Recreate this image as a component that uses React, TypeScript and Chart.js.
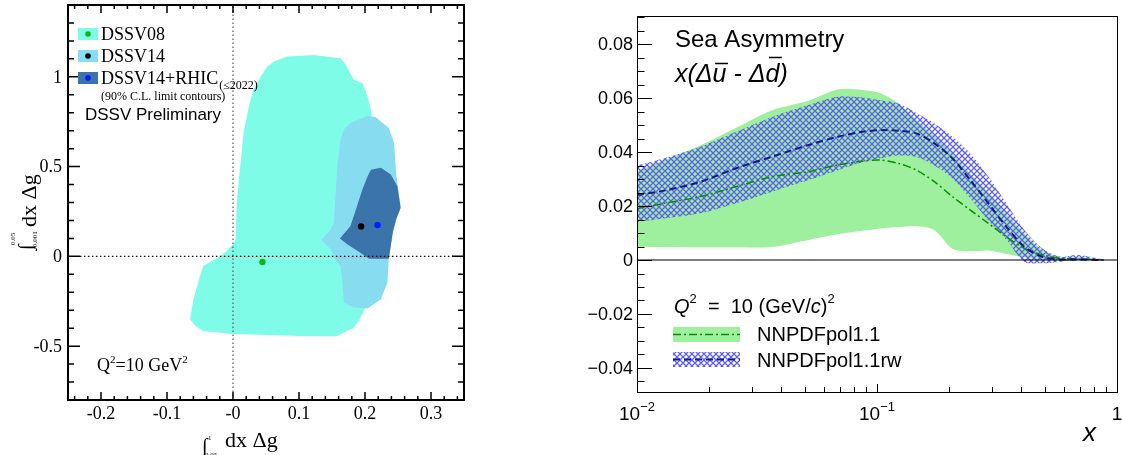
import React, { useEffect, useRef } from "react";
import { Chart, registerables } from "chart.js";
Chart.register(...registerables);

const SERIF = '"Liberation Serif", "Times New Roman", serif';
const SANS = '"Liberation Sans", Arial, sans-serif';

// ---------------- Left panel data ----------------
const dssv08X = [0.004, 0.006, 0.011, 0.016, 0.024, 0.031, 0.042, 0.052, 0.062, 0.082, 0.123, 0.163, 0.171, 0.183, 0.196, 0.204, 0.21, 0.212, 0.214, 0.212, 0.205, 0.192, 0.183, 0.157, 0.102, 0.001, -0.035, -0.045, -0.057, -0.065, -0.06, -0.05, -0.045, -0.019, -0.0095, 0.001, 0.004];
const dssv08Y = [0.094, 0.317, 0.502, 0.687, 0.835, 0.928, 1.002, 1.057, 1.085, 1.113, 1.122, 1.104, 1.067, 0.983, 0.965, 0.891, 0.798, 0.6, 0.2, -0.1, -0.25, -0.35, -0.396, -0.445, -0.443, -0.433, -0.42, -0.415, -0.387, -0.35, -0.239, -0.109, -0.054, 0.002, 0.03, 0.07, 0.094];

const dssv14X = [0.178, 0.204, 0.216, 0.236, 0.244, 0.247, 0.254, 0.249, 0.242, 0.236, 0.234, 0.224, 0.204, 0.183, 0.168, 0.166, 0.163, 0.155, 0.148, 0.134, 0.148, 0.153, 0.155, 0.158, 0.163, 0.168, 0.178];
const dssv14Y = [0.743, 0.783, 0.776, 0.715, 0.631, 0.465, 0.28, 0.224, 0.131, -0.017, -0.146, -0.239, -0.291, -0.285, -0.257, -0.146, -0.054, -0.017, 0.039, 0.091, 0.15, 0.187, 0.317, 0.502, 0.65, 0.706, 0.743];

const rhicX = [0.209, 0.224, 0.239, 0.249, 0.254, 0.247, 0.242, 0.239, 0.236, 0.206, 0.193, 0.173, 0.162, 0.178, 0.188, 0.196, 0.204, 0.209];
const rhicY = [0.483, 0.493, 0.456, 0.391, 0.27, 0.206, 0.131, 0.057, -0.013, -0.013, 0.02, 0.067, 0.1, 0.169, 0.28, 0.372, 0.446, 0.483];

const bestLabels = ["DSSV08", "DSSV14", "DSSV14+RHIC"];
const bestX = [0.0446, 0.194, 0.219];
const bestY = [-0.031, 0.167, 0.174];

const leftXTicks = [-0.2, -0.1, 0, 0.1, 0.2, 0.3];
const leftXTickLabels = ["-0.2", "-0.1", "-0", "0.1", "0.2", "0.3"];
const leftYTicks = [-0.5, 0, 0.5, 1];
const leftYTickLabels = ["-0.5", "0", "0.5", "1"];

// ---------------- Right panel data ----------------
const xGrid = [0.01, 0.013, 0.0184, 0.0259, 0.0366, 0.0518, 0.0683, 0.0869, 0.1033, 0.1228, 0.146, 0.1734, 0.2061, 0.2449, 0.291, 0.3459, 0.4111, 0.4887, 0.5808, 0.6902, 0.879];
const nnpdfUpper = [0.033, 0.037, 0.0425, 0.049, 0.0555, 0.059, 0.0632, 0.063, 0.0618, 0.058, 0.052, 0.046, 0.0395, 0.032, 0.025, 0.017, 0.0099, 0.0037, 0.0012, 0.001, 0.0002];
const nnpdfLower = [0.0049, 0.0048, 0.0047, 0.0047, 0.0048, 0.0074, 0.0095, 0.0108, 0.0117, 0.0122, 0.0126, 0.011, 0.0042, 0.0032, 0.0035, 0.0022, 0.001, 0.0002, 0, 0, 0];
const nnpdfCentral = [0.0191, 0.021, 0.0235, 0.0272, 0.0309, 0.0327, 0.0352, 0.0366, 0.037, 0.0358, 0.0333, 0.029, 0.0235, 0.0185, 0.0136, 0.0086, 0.0043, 0.0019, 0.0006, 0.0004, 0];
const rwUpper = [0.035, 0.0377, 0.042, 0.0475, 0.053, 0.0574, 0.0605, 0.0602, 0.0592, 0.058, 0.0545, 0.0506, 0.0457, 0.0395, 0.0309, 0.021, 0.0111, 0.0043, 0.0012, 0.0019, 0.0002];
const rwLower = [0.0142, 0.0154, 0.0173, 0.021, 0.0253, 0.0296, 0.0332, 0.0362, 0.0377, 0.0387, 0.0382, 0.035, 0.0302, 0.0228, 0.0146, 0.0075, -0.0006, -0.0012, -0.0006, 0, 0];
const rwCentral = [0.0241, 0.0257, 0.029, 0.034, 0.0383, 0.0426, 0.0456, 0.0475, 0.0481, 0.0479, 0.0469, 0.0432, 0.0377, 0.0296, 0.021, 0.0123, 0.0049, 0.0012, 0.0002, 0.0002, 0];

const rightYTicks = [-0.04, -0.02, 0, 0.02, 0.04, 0.06, 0.08];
const rightYTickLabels = ["\u22120.04", "\u22120.02", "0", "0.02", "0.04", "0.06", "0.08"];
const rightXTicks = [0.01, 0.1, 1];
const rightXTickBase = ["10", "10", "1"];
const rightXTickExp = ["\u22122", "\u22121", ""];
const seriesLabels = ["NNPDFpol1.1", "NNPDFpol1.1rw"];

const COL08 = "rgb(126,252,232)";
const COL14 = "rgb(135,220,240)";
const COLRH = "rgb(58,116,170)";
const DOTS = ["rgb(20,180,20)", "#000000", "rgb(0,30,255)"];
const GREEN_FILL = "rgb(158,240,158)";
const GREEN_LINE = "rgb(10,140,10)";
const NAVY = "rgb(25,25,135)";
const HATCH = "rgb(95,95,238)";

const pts = (xs: number[], ys: number[]) => xs.map((x, i) => ({ x, y: ys[i] }));

type Part = { t: string; font: string; dy?: number };
function richWidth(ctx: CanvasRenderingContext2D, parts: Part[]) {
  let w = 0;
  for (const p of parts) { ctx.font = p.font; w += ctx.measureText(p.t).width; }
  return w;
}
function drawRich(ctx: CanvasRenderingContext2D, parts: Part[], x: number, y: number) {
  let cx = x;
  const pos: number[] = [];
  for (const p of parts) {
    ctx.font = p.font;
    pos.push(cx);
    ctx.fillText(p.t, cx, y + (p.dy || 0));
    cx += ctx.measureText(p.t).width;
  }
  pos.push(cx);
  return pos;
}

function makeHatch() {
  const c = document.createElement("canvas");
  c.width = 6; c.height = 6;
  const g = c.getContext("2d")!;
  g.strokeStyle = HATCH; g.lineWidth = 1.25;
  g.beginPath();
  g.moveTo(-1, -1); g.lineTo(7, 7);
  g.moveTo(7, -1); g.lineTo(-1, 7);
  g.stroke();
  return g.createPattern(c, "repeat");
}

const leftDecor = {
  id: "leftDecor",
  afterDatasetsDraw(chart: any) {
    const { ctx, chartArea: a, scales } = chart;
    const x = scales.x, y = scales.y;
    ctx.save();
    ctx.fillStyle = "#000";
    ctx.strokeStyle = "#000";
    ctx.lineWidth = 1.5;
    ctx.beginPath();
    for (let k = -12; k <= 17; k++) {
      const px = x.getPixelForValue(k * 0.02);
      const len = k % 5 === 0 ? 8 : 4;
      ctx.moveTo(px, a.bottom); ctx.lineTo(px, a.bottom - len);
      ctx.moveTo(px, a.top); ctx.lineTo(px, a.top + len);
    }
    for (let k = -7; k <= 13; k++) {
      const py = y.getPixelForValue(k * 0.1);
      const len = k % 5 === 0 ? 12 : 6;
      ctx.moveTo(a.left, py); ctx.lineTo(a.left + len, py);
      ctx.moveTo(a.right, py); ctx.lineTo(a.right - len, py);
    }
    ctx.stroke();
    ctx.lineWidth = 2;
    ctx.strokeRect(a.left, a.top, a.right - a.left, a.bottom - a.top);

    ctx.font = `18px ${SERIF}`;
    ctx.textAlign = "center";
    ctx.textBaseline = "alphabetic";
    leftXTicks.forEach((v, i) => ctx.fillText(leftXTickLabels[i], x.getPixelForValue(v), a.bottom + 19));
    ctx.textAlign = "right";
    ctx.textBaseline = "middle";
    leftYTicks.forEach((v, i) => ctx.fillText(leftYTickLabels[i], a.left - 6, y.getPixelForValue(v) + 1));

    ctx.textAlign = "left";
    ctx.textBaseline = "alphabetic";
    const bx = 202, by = 447;
    ctx.font = `20px ${SERIF}`; ctx.fillText("\u222B", bx, by + 5);
    ctx.font = `7px ${SERIF}`; ctx.fillText("1", bx + 6, by - 7);
    ctx.font = `7px ${SERIF}`; ctx.fillText("0.05", bx + 3, by + 10);
    ctx.font = `22px ${SERIF}`; ctx.fillText("dx \u0394g", bx + 23, by);
    ctx.save();
    ctx.translate(36, 250);
    ctx.rotate(-Math.PI / 2);
    ctx.font = `20px ${SERIF}`; ctx.fillText("\u222B", 0, -4);
    ctx.font = `7px ${SERIF}`; ctx.fillText("0.05", 5, -21);
    ctx.font = `7px ${SERIF}`; ctx.fillText("0.001", 3, 1);
    ctx.font = `22px ${SERIF}`; ctx.fillText("dx \u0394g", 23, 0);
    ctx.restore();

    const boxY = [28, 50, 72];
    const cols = [COL08, COL14, COLRH];
    boxY.forEach((by0, i) => {
      ctx.fillStyle = cols[i];
      ctx.fillRect(78, by0, 20, 12);
      ctx.fillStyle = DOTS[i];
      ctx.beginPath(); ctx.arc(88, by0 + 6, 2.8, 0, Math.PI * 2); ctx.fill();
      ctx.fillStyle = "#000";
      const end = drawRich(ctx, [{ t: bestLabels[i], font: `18px ${SERIF}` }], 101, by0 + 11.5);
      if (i === 2) {
        ctx.font = `12px ${SERIF}`;
        ctx.fillText("(\u22642022)", end[1] + 1, by0 + 16.5);
      }
    });
    ctx.font = `12px ${SERIF}`;
    ctx.fillText("(90% C.L. limit contours)", 101, 100);
    ctx.font = `17px ${SANS}`;
    ctx.fillText("DSSV Preliminary", 85, 120);
    drawRich(ctx, [
      { t: "Q", font: `18px ${SERIF}` },
      { t: "2", font: `11px ${SERIF}`, dy: -8 },
      { t: "=10 GeV", font: `18px ${SERIF}` },
      { t: "2", font: `11px ${SERIF}`, dy: -8 },
    ], 97, 371);
    ctx.restore();
  },
};

const rightDecor = {
  id: "rightDecor",
  afterDatasetsDraw(chart: any) {
    const { ctx, chartArea: a, scales } = chart;
    const x = scales.x, y = scales.y;
    ctx.save();
    ctx.fillStyle = "#000";
    ctx.strokeStyle = "#000";
    ctx.lineWidth = 1;
    ctx.beginPath();
    for (let k = -9; k <= 18; k++) {
      const v = k * 0.005;
      const py = Math.round(y.getPixelForValue(v)) + 0.5;
      const len = k % 4 === 0 ? 15 : 7.5;
      ctx.moveTo(a.left, py); ctx.lineTo(a.left + len, py);
    }
    for (const dec of [0.01, 0.1]) {
      for (let m = 1; m <= 9; m++) {
        const v = dec * m;
        const px = Math.round(x.getPixelForValue(v)) + 0.5;
        const len = m === 1 ? 8 : 5;
        ctx.moveTo(px, a.bottom); ctx.lineTo(px, a.bottom - len);
      }
    }
    ctx.stroke();
    ctx.strokeRect(Math.round(a.left) + 0.5, Math.round(a.top) + 0.5, Math.round(a.right - a.left), Math.round(a.bottom - a.top));

    ctx.font = `18px ${SANS}`;
    ctx.textAlign = "right";
    ctx.textBaseline = "middle";
    rightYTicks.forEach((v, i) => ctx.fillText(rightYTickLabels[i], a.left - 4, y.getPixelForValue(v) + 1));
    ctx.textAlign = "left";
    ctx.textBaseline = "alphabetic";
    rightXTicks.forEach((v, i) => {
      const parts: Part[] = [{ t: rightXTickBase[i], font: `19px ${SANS}` }];
      if (rightXTickExp[i]) parts.push({ t: rightXTickExp[i], font: `13px ${SANS}`, dy: -9 });
      const w = richWidth(ctx, parts);
      drawRich(ctx, parts, x.getPixelForValue(v) - w / 2, a.bottom + 28);
    });
    ctx.font = `italic 26px ${SANS}`;
    ctx.textAlign = "right";
    ctx.fillText("x", a.right - 21, 441);
    ctx.textAlign = "left";

    ctx.font = `24px ${SANS}`;
    ctx.fillText("Sea Asymmetry", 115, 47);
    const it = `italic 25px ${SANS}`;
    const fb = 82;
    const pos = drawRich(ctx, [
      { t: "x(\u0394", font: it },
      { t: "u", font: it },
      { t: " - \u0394", font: it },
      { t: "d", font: it },
      { t: ")", font: it },
    ], 115, fb);
    ctx.lineWidth = 1.6;
    ctx.beginPath();
    ctx.moveTo(pos[1] + 2.5, fb - 18.5); ctx.lineTo(pos[2] + 1.5, fb - 18.5);
    ctx.moveTo(pos[3] + 3.5, fb - 24.5); ctx.lineTo(pos[4] + 2.5, fb - 24.5);
    ctx.stroke();

    drawRich(ctx, [
      { t: "Q", font: `italic 20px ${SANS}` },
      { t: "2", font: `13px ${SANS}`, dy: -10 },
      { t: "  =  10 (GeV/", font: `20px ${SANS}` },
      { t: "c", font: `italic 20px ${SANS}` },
      { t: ")", font: `20px ${SANS}` },
      { t: "2", font: `13px ${SANS}`, dy: -10 },
    ], 114, 313);
    ctx.fillStyle = GREEN_FILL;
    ctx.fillRect(113, 327, 67, 15);
    ctx.strokeStyle = GREEN_LINE;
    ctx.lineWidth = 1.5;
    ctx.setLineDash([8, 3, 2, 3]);
    ctx.beginPath(); ctx.moveTo(113, 334.5); ctx.lineTo(180, 334.5); ctx.stroke();
    ctx.fillStyle = (chart as any).$hatch || HATCH;
    ctx.fillRect(113, 352, 67, 15);
    ctx.strokeStyle = NAVY;
    ctx.lineWidth = 2;
    ctx.setLineDash([7, 4]);
    ctx.beginPath(); ctx.moveTo(113, 359.5); ctx.lineTo(180, 359.5); ctx.stroke();
    ctx.setLineDash([]);
    ctx.fillStyle = "#000";
    ctx.font = `20px ${SANS}`;
    ctx.fillText(seriesLabels[0], 197, 341);
    ctx.fillText(seriesLabels[1], 197, 367);
    ctx.restore();
  },
};

export default function App() {
  const lref = useRef<HTMLCanvasElement>(null);
  const rref = useRef<HTMLCanvasElement>(null);
  useEffect(() => {
    const polygon = (label: string, xs: number[], ys: number[], color: string, order: number) => ({
      label, data: pts(xs, ys), fill: "shape", backgroundColor: color, borderColor: "transparent",
      borderWidth: 0, pointRadius: 0, order, tension: 0,
    });
    const left = new Chart(lref.current!, {
      type: "line",
      data: {
        datasets: [
          ...bestLabels.map((l, i) => ({
            label: l + " best fit", data: [{ x: bestX[i], y: bestY[i] }], showLine: false,
            pointRadius: 3.2, pointBackgroundColor: DOTS[i], pointBorderWidth: 0, borderColor: "transparent", order: 0,
          })),
          { label: "y0", data: [{ x: -0.232, y: 0 }, { x: 0.333, y: 0 }], borderColor: "#000", borderWidth: 1.2, borderDash: [1.5, 2.5], pointRadius: 0, order: 1 },
          { label: "x0", data: [{ x: 0, y: -0.8 }, { x: 0, y: 1.4 }], borderColor: "#555", borderWidth: 1.2, borderDash: [1.5, 2.5], pointRadius: 0, order: 1 },
          polygon("DSSV14+RHIC", rhicX, rhicY, COLRH, 2),
          polygon("DSSV14", dssv14X, dssv14Y, COL14, 3),
          polygon("DSSV08", dssv08X, dssv08Y, COL08, 4),
        ],
      } as any,
      options: {
        responsive: false, animation: false, devicePixelRatio: 1, events: [],
        layout: { padding: { left: 68, right: 36, top: 5, bottom: 55 } },
        plugins: { legend: { display: false }, tooltip: { enabled: false } },
        scales: {
          x: { type: "linear", min: -0.25, max: 0.35, display: false },
          y: { type: "linear", min: -0.8, max: 1.4, display: false },
        },
      } as any,
      plugins: [leftDecor],
    });

    const hatch = makeHatch();
    const line = (label: string, ys: number[], extra: any) => ({
      label, data: pts(xGrid, ys), pointRadius: 0, tension: 0.3, borderColor: "transparent", borderWidth: 0, fill: false, ...extra,
    });
    const right = new Chart(rref.current!, {
      type: "line",
      data: {
        datasets: [
          line("NNPDFpol1.1 upper", nnpdfUpper, { fill: "+1", backgroundColor: GREEN_FILL, order: 5 }),
          line("NNPDFpol1.1 lower", nnpdfLower, { order: 5 }),
          line("NNPDFpol1.1rw upper", rwUpper, { fill: "+1", backgroundColor: hatch, order: 4 }),
          line("NNPDFpol1.1rw lower", rwLower, { order: 4 }),
          line("NNPDFpol1.1", nnpdfCentral, { borderColor: GREEN_LINE, borderWidth: 1.5, borderDash: [8, 3, 2, 3], order: 2 }),
          line("NNPDFpol1.1rw", rwCentral, { borderColor: NAVY, borderWidth: 2, borderDash: [7, 4], order: 1 }),
          { label: "zero", data: [{ x: 0.01, y: 0 }, { x: 1, y: 0 }], borderColor: "#000", borderWidth: 1, pointRadius: 0, order: 0 },
        ],
      } as any,
      options: {
        responsive: false, animation: false, devicePixelRatio: 1, events: [],
        layout: { padding: { left: 77, right: 5, top: 16, bottom: 63 } },
        plugins: { legend: { display: false }, tooltip: { enabled: false } },
        scales: {
          x: { type: "logarithmic", min: 0.01, max: 1, display: false },
          y: { type: "linear", min: -0.0489, max: 0.0904, display: false },
        },
      } as any,
      plugins: [{ id: "hatchref", beforeInit(c: any) { c.$hatch = hatch; } }, rightDecor],
    });
    return () => { left.destroy(); right.destroy(); };
  }, []);

  return (
    <div style={{ position: "fixed", left: 0, top: 0, width: 1122, height: 455, background: "#fff", overflow: "hidden" }}>
      <canvas ref={lref} width={500} height={455} style={{ position: "absolute", left: 0, top: 0, width: 500, height: 455 }} />
      <canvas ref={rref} width={562} height={455} style={{ position: "absolute", left: 560, top: 0, width: 562, height: 455 }} />
    </div>
  );
}
